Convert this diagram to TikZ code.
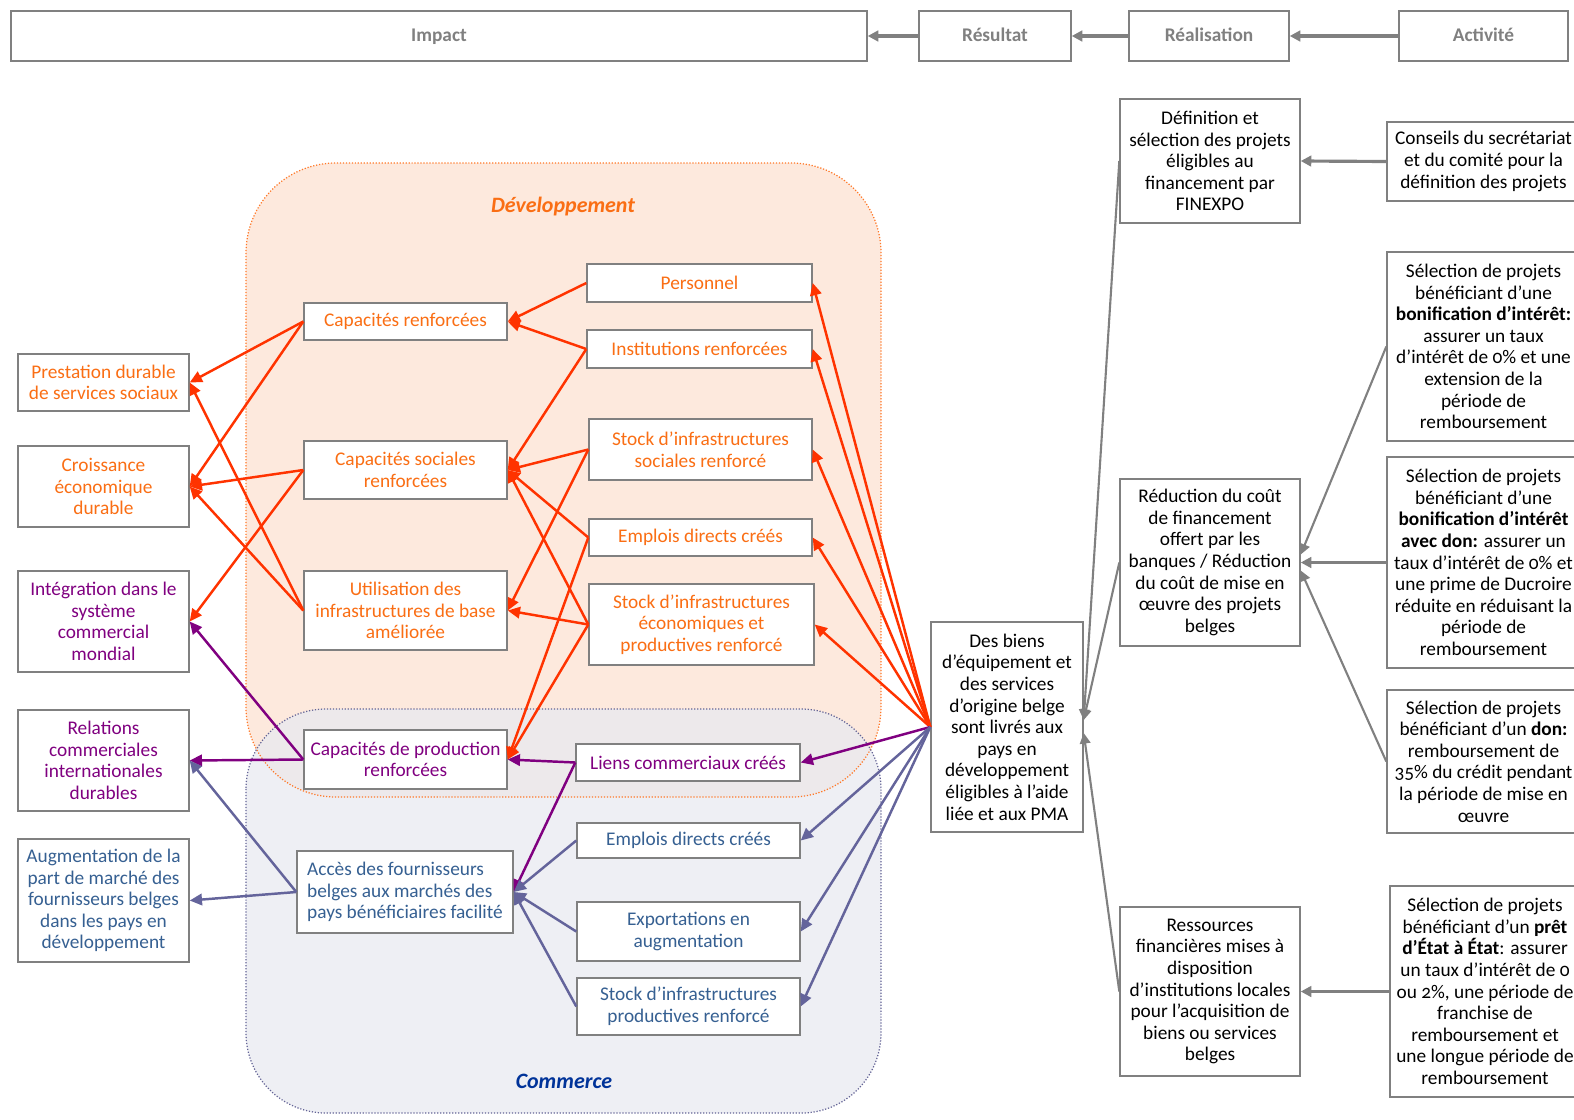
\documentclass[tikz,border=0pt]{standalone}
\usepackage{fontspec}
\setmainfont{Carlito}[Numbers=OldStyle]
\usetikzlibrary{arrows.meta,calc}
\definecolor{boxgray}{RGB}{128,128,128}
\definecolor{devtext}{RGB}{250,110,20}
\definecolor{devarrow}{RGB}{255,51,0}
\definecolor{devfill}{RGB}{253,233,221}
\definecolor{devborder}{RGB}{255,120,40}
\definecolor{tradepurple}{RGB}{128,0,128}
\definecolor{tradetext}{RGB}{54,96,146}
\definecolor{tradearrow}{RGB}{100,100,155}
\definecolor{tradefill}{RGB}{232,233,240}
\definecolor{tradeborder}{RGB}{100,100,150}
\definecolor{tradetitle}{RGB}{0,51,153}
\tikzset{
  box/.style={draw=boxgray, line width=0.8pt, fill=white, align=center, inner sep=0pt, font=\fontsize{11}{12.3}\selectfont},
  sz/.style 2 args={minimum width=#1*0.02cm, minimum height=#2*0.02cm},
  headbox/.style={box, text=boxgray, font=\fontsize{11}{12}\selectfont\bfseries, text height=1.6ex, text depth=0.4ex},
  devbox/.style={box, text=devtext},
  purplebox/.style={box, text=tradepurple},
  tradebox/.style={box, text=tradetext},
  grayarr/.style={-{Triangle[length=6pt,width=6pt]}, line width=1.8pt, boxgray},
  grayline/.style={-{Triangle[length=6pt,width=6pt]}, line width=1.2pt, boxgray},
  devarr/.style={-{Triangle[length=7pt,width=6.5pt]}, line width=1.4pt, devarrow},
  purplearr/.style={-{Triangle[length=7pt,width=6.5pt]}, line width=1.4pt, tradepurple},
  tradearr/.style={-{Triangle[length=7pt,width=6.5pt]}, line width=1.4pt, tradearrow}
}
\begin{document}
\begin{tikzpicture}[x=0.02cm, y=-0.02cm]
  \useasboundingbox (0,0) rectangle (1574,1119);
  \clip (0,0) rectangle (1574,1119);
  % Regions
  \path[fill=devfill, rounded corners=1.8cm] (246,163) rectangle (881,797);
  \path[fill=tradefill, fill opacity=0.75, rounded corners=1.6cm] (246,709) rectangle (881,1113);
  \draw[devborder, densely dotted, line width=0.7pt, rounded corners=1.8cm] (246,163) rectangle (881,797);
  \draw[tradeborder, densely dotted, line width=0.7pt, rounded corners=1.6cm] (246,709) rectangle (881,1113);
  \node[font=\fontsize{12.5}{14}\selectfont\bfseries\itshape, text=devtext] (devlabel) at (563,207) {Développement};
  \node[font=\fontsize{12.5}{14}\selectfont\bfseries\itshape, text=tradetitle] (tradelabel) at (564,1081) {Commerce};
  % Header
  \node[headbox, sz={856}{50}] (impact) at (439,36) {Impact};
  \node[headbox, sz={152}{50}] (resultat) at (995,36) {Résultat};
  \node[headbox, sz={160}{50}] (realis) at (1209,36) {Réalisation};
  \node[headbox, sz={169}{50}] (activite) at (1483.5,36) {Activité};
  % Activities
  \node[box, sz={193}{79}] (conseils) at (1483.5,161.5) {Conseils du secrétariat\\et du comité pour la\\définition des projets};
  \node[box, sz={193}{189}] (sel1) at (1483.5,346.5) {Sélection de projets\\bénéficiant d’une\\\textbf{bonification d’intérêt:}\\assurer un taux\\d’intérêt de 0\% et une\\extension de la\\période de\\remboursement};
  \node[box, sz={193}{211}] (sel2) at (1483.5,562.5) {Sélection de projets\\bénéficiant d’une\\\textbf{bonification d’intérêt}\\\textbf{avec don:} assurer un\\taux d’intérêt de 0\% et\\une prime de Ducroire\\réduite en réduisant la\\période de\\remboursement};
  \node[box, sz={193}{143}] (sel3) at (1483.5,761.5) {Sélection de projets\\bénéficiant d’un \textbf{don:}\\remboursement de\\35\% du crédit pendant\\la période de mise en\\œuvre};
  \node[box, sz={190}{211}] (sel4) at (1485,991.5) {Sélection de projets\\bénéficiant d’un \textbf{prêt}\\\textbf{d’État à État}: assurer\\un taux d’intérêt de 0\\ou 2\%, une période de\\franchise de\\remboursement et\\une longue période de\\remboursement};
  % Realisations
  \node[box, sz={180}{124}] (definition) at (1210,161) {Définition et\\sélection des projets\\éligibles au\\financement par\\FINEXPO};
  \node[box, sz={180}{167}] (reduction) at (1210,562.5) {Réduction du coût\\de financement\\offert par les\\banques / Réduction\\du coût de mise en\\œuvre des projets\\belges};
  \node[box, sz={180}{169}] (ressources) at (1210,991.5) {Ressources\\financières mises à\\disposition\\d’institutions locales\\pour l’acquisition de\\biens ou services\\belges};
  \node[box, sz={152}{210}] (desbiens) at (1007,727) {Des biens\\d’équipement et\\des services\\d’origine belge\\sont livrés aux\\pays en\\développement\\éligibles à l’aide\\liée et aux PMA};
  % Development results
  \node[devbox, sz={225}{38}] (personnel) at (699.5,283) {Personnel};
  \node[devbox, sz={225}{38}] (institutions) at (699.5,349) {Institutions renforcées};
  \node[devbox, sz={223}{61}] (stocksoc) at (700.5,449.5) {Stock d’infrastructures\\sociales renforcé};
  \node[devbox, sz={223}{37}] (emploisdev) at (700.5,537.5) {Emplois directs créés};
  \node[devbox, sz={225}{81}] (stockeco) at (701.5,624.5) {Stock d’infrastructures\\économiques et\\productives renforcé};
  \node[devbox, sz={203}{37}] (caprenf) at (405.5,321.5) {Capacités renforcées};
  \node[devbox, sz={203}{58}] (capsoc) at (405.5,470) {Capacités sociales\\renforcées};
  \node[devbox, sz={203}{79}] (utilisation) at (405.5,610.5) {Utilisation des\\infrastructures de base\\améliorée};
  \node[purplebox, sz={203}{59}] (capprod) at (405.5,759.5) {Capacités de production\\renforcées};
  % Trade results
  \node[purplebox, sz={224}{37}] (liens) at (688,762.5) {Liens commerciaux créés};
  \node[tradebox, sz={223}{35}] (emploiscom) at (688.5,840.5) {Emplois directs créés};
  \node[tradebox, sz={223}{59}] (exports) at (688.5,931.5) {Exportations en\\augmentation};
  \node[tradebox, sz={223}{57}] (stockprod) at (688.5,1006.5) {Stock d’infrastructures\\productives renforcé};
  \node[tradebox, align=left, sz={216}{82}] (acces) at (405,892) {Accès des fournisseurs\\belges aux marchés des\\pays bénéficiaires facilité};
  % Impacts
  \node[devbox, sz={171}{57}] (prestation) at (103.5,382.5) {Prestation durable\\de services sociaux};
  \node[devbox, sz={171}{81}] (croissance) at (103.5,486.5) {Croissance\\économique\\durable};
  \node[purplebox, sz={171}{101}] (integration) at (103.5,621.5) {Intégration dans le\\système\\commercial\\mondial};
  \node[purplebox, sz={171}{101}] (relations) at (103.5,760.5) {Relations\\commerciales\\internationales\\durables};
  \node[tradebox, sz={171}{123}] (augmentation) at (103.5,900.5) {Augmentation de la\\part de marché des\\fournisseurs belges\\dans les pays en\\développement};
  % Gray chain
  \draw[grayarr] (activite) -- (realis);
  \draw[grayarr] (realis) -- (resultat);
  \draw[grayarr] (resultat) -- (impact);
  \draw[grayarr] (conseils.west) -- (definition.east);
  \draw[grayarr] (sel2.west) -- (reduction.east);
  \draw[grayarr] (sel4.west) -- (ressources.east);
  \draw[grayline] (sel1.west) -- ($(reduction.east)+(0,-8)$);
  \draw[grayline] (sel3.west) -- ($(reduction.east)+(0,8)$);
  \draw[grayline] (definition.west) -- ($(desbiens.east)+(0,-7)$);
  \draw[grayline] (reduction.west) -- ($(desbiens.east)+(0,-7)$);
  \draw[grayline] (ressources.west) -- ($(desbiens.east)+(0,6)$);
  % Outputs of the activity
  \draw[devarr] (desbiens.west) -- (personnel.east);
  \draw[devarr] (desbiens.west) -- (institutions.east);
  \draw[devarr] (desbiens.west) -- (stocksoc.east);
  \draw[devarr] (desbiens.west) -- (emploisdev.east);
  \draw[devarr] (desbiens.west) -- (stockeco.east);
  \draw[purplearr] (desbiens.west) -- (liens.east);
  \draw[tradearr] (desbiens.west) -- (emploiscom.east);
  \draw[tradearr] (desbiens.west) -- (exports.east);
  \draw[tradearr] (desbiens.west) -- (stockprod.east);
  % Development links
  \draw[devarr] (personnel.west) -- (caprenf.east);
  \draw[devarr] (institutions.west) -- (caprenf.east);
  \draw[devarr] (institutions.west) -- (capsoc.east);
  \draw[devarr] (stocksoc.west) -- (capsoc.east);
  \draw[devarr] (stocksoc.west) -- (utilisation.east);
  \draw[devarr] (emploisdev.west) -- (capsoc.east);
  \draw[devarr] (emploisdev.west) -- (capprod.east);
  \draw[devarr] (stockeco.west) -- (capsoc.east);
  \draw[devarr] (stockeco.west) -- (utilisation.east);
  \draw[devarr] (stockeco.west) -- (capprod.east);
  \draw[devarr] (caprenf.west) -- (prestation.east);
  \draw[devarr] (caprenf.west) -- (croissance.east);
  \draw[devarr] (capsoc.west) -- (croissance.east);
  \draw[devarr] (capsoc.west) -- (integration.east);
  \draw[devarr] (utilisation.west) -- (prestation.east);
  \draw[devarr] (utilisation.west) -- (croissance.east);
  % Trade links
  \draw[purplearr] (capprod.west) -- (integration.east);
  \draw[purplearr] (capprod.west) -- (relations.east);
  \draw[purplearr] (liens.west) -- (capprod.east);
  \draw[purplearr] (liens.west) -- (acces.east);
  \draw[tradearr] (emploiscom.west) -- (acces.east);
  \draw[tradearr] (exports.west) -- (acces.east);
  \draw[tradearr] (stockprod.west) -- (acces.east);
  \draw[tradearr] (acces.west) -- (relations.east);
  \draw[tradearr] (acces.west) -- (augmentation.east);
\end{tikzpicture}
\end{document}
